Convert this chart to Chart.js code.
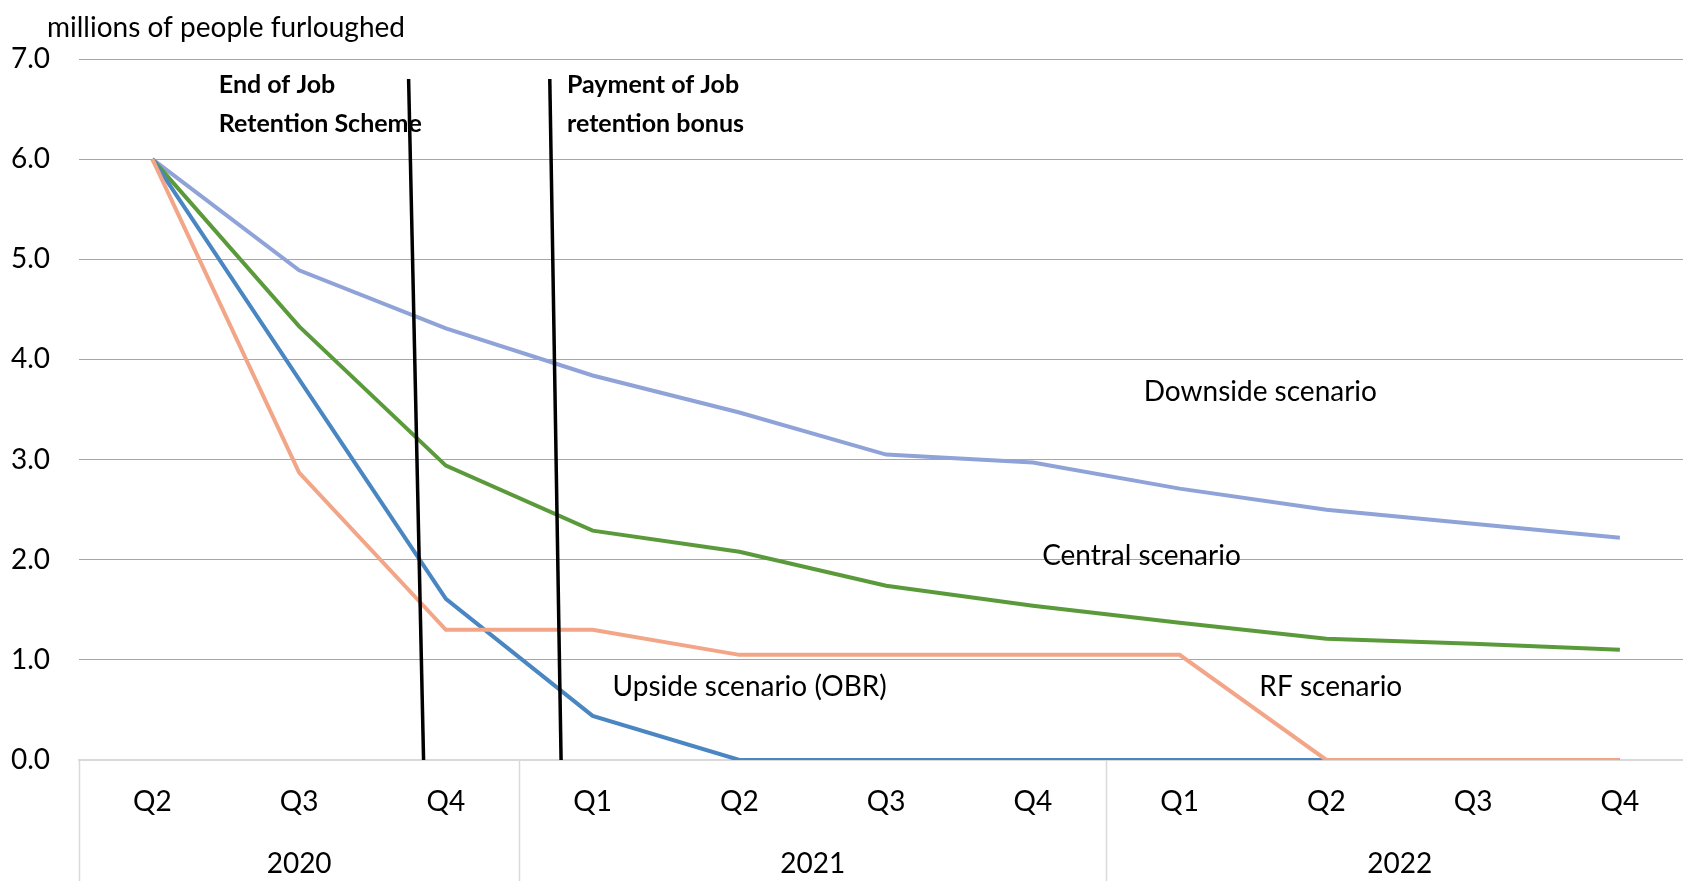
<!DOCTYPE html>
<html>
<head>
<meta charset="utf-8">
<script src="https://cdn.jsdelivr.net/npm/chart.js@4/dist/chart.umd.min.js"></script>
<style>
  html, body { margin: 0; padding: 0; background: #fff; overflow: hidden; }
  #wrap { width: 1683px; height: 881px; }
</style>
</head>
<body>
<div id="wrap"><canvas id="c" width="1683" height="881"></canvas></div>
<script>
// Quarters and the years they belong to
const quarterLabels = ['Q2', 'Q3', 'Q4', 'Q1', 'Q2', 'Q3', 'Q4', 'Q1', 'Q2', 'Q3', 'Q4'];
const yearLabels = ['2020', '2021', '2022'];
const yearFirstIndex = [0, 3, 7];
const yearLastIndex = [2, 6, 10];

// Millions of people furloughed, per scenario
const downside = [6.0, 4.89, 4.31, 3.84, 3.47, 3.05, 2.97, 2.71, 2.50, 2.36, 2.22];
const central  = [6.0, 4.33, 2.94, 2.29, 2.08, 1.74, 1.54, 1.37, 1.21, 1.16, 1.10];
const upside   = [6.0, 3.80, 1.61, 0.44, 0.0, 0.0, 0.0, 0.0, 0.0, 0.0, 0.0];
const rf       = [6.0, 2.87, 1.30, 1.30, 1.05, 1.05, 1.05, 1.05, 0.0, 0.0, 0.0];

// Policy event markers (quarter index, value)
const jrsEndMarker = [{ x: 1.746, y: 6.8 }, { x: 1.848, y: 0 }];
const bonusMarker  = [{ x: 2.708, y: 6.8 }, { x: 2.785, y: 0 }];

const yTicks = [0, 1, 2, 3, 4, 5, 6, 7];

const FONT = 'Lato, "Open Sans", sans-serif';

const toPoints = arr => arr.map((v, i) => ({ x: i, y: v }));

const decorations = {
  id: 'decorations',
  afterDraw(chart) {
    const { ctx, scales: { x, y }, chartArea } = chart;
    ctx.save();
    // Axis title
    ctx.fillStyle = '#000';
    ctx.font = '28px ' + FONT;
    ctx.textAlign = 'left';
    ctx.textBaseline = 'middle';
    ctx.fillText('millions of people furloughed', 47, 28);

    // Year group separators below the axis
    ctx.strokeStyle = '#D9D9D9';
    ctx.lineWidth = 1.5;
    const seps = [-0.5, 2.5, 6.5];
    seps.forEach(s => {
      const px = Math.round(x.getPixelForValue(s)) + 0.5;
      ctx.beginPath();
      ctx.moveTo(px, chartArea.bottom);
      ctx.lineTo(px, chart.height);
      ctx.stroke();
    });

    // Year labels
    ctx.fillStyle = '#000';
    ctx.font = '28px ' + FONT;
    ctx.textAlign = 'center';
    ctx.textBaseline = 'middle';
    yearLabels.forEach((label, i) => {
      const cx = x.getPixelForValue((yearFirstIndex[i] + yearLastIndex[i]) / 2);
      ctx.fillText(label, cx, 864);
    });

    // Scenario labels
    const scen = [
      ['Downside scenario', 7.55, 3.68],
      ['Central scenario', 6.74, 2.04],
      ['Upside scenario (OBR)', 4.07, 0.73],
      ['RF scenario', 8.03, 0.73]
    ];
    scen.forEach(([t, xi, yv]) => {
      ctx.fillText(t, x.getPixelForValue(xi), y.getPixelForValue(yv));
    });

    // Event notes
    ctx.font = 'bold 25px ' + FONT;
    ctx.textAlign = 'left';
    const notes = [
      ['End of Job', 0.453, 6.74],
      ['Retention Scheme', 0.453, 6.355],
      ['Payment of Job', 2.825, 6.74],
      ['retention bonus', 2.825, 6.355]
    ];
    notes.forEach(([t, xi, yv]) => {
      ctx.fillText(t, x.getPixelForValue(xi), y.getPixelForValue(yv));
    });
    ctx.restore();
  }
};

new Chart(document.getElementById('c'), {
  type: 'line',
  data: {
    datasets: [
      { label: 'End of JRS', data: jrsEndMarker, borderColor: '#000', borderWidth: 3.5, pointRadius: 0, tension: 0 },
      { label: 'Retention bonus', data: bonusMarker, borderColor: '#000', borderWidth: 3.5, pointRadius: 0, tension: 0 },
      { label: 'RF scenario', data: toPoints(rf), borderColor: '#F2A687', borderWidth: 4, pointRadius: 0, tension: 0 },
      { label: 'Upside scenario (OBR)', data: toPoints(upside), borderColor: '#4A86C1', borderWidth: 4, pointRadius: 0, tension: 0 },
      { label: 'Central scenario', data: toPoints(central), borderColor: '#5B9A3B', borderWidth: 4, pointRadius: 0, tension: 0 },
      { label: 'Downside scenario', data: toPoints(downside), borderColor: '#8FA3D8', borderWidth: 4, pointRadius: 0, tension: 0 }
    ]
  },
  options: {
    responsive: false,
    animation: false,
    events: [],
    layout: { padding: { top: 59, right: 0, bottom: 0, left: 0 } },
    plugins: { legend: { display: false }, tooltip: { enabled: false }, title: { display: false } },
    scales: {
      x: {
        type: 'linear',
        min: -0.5,
        max: 10.43,
        afterBuildTicks: s => { s.ticks = quarterLabels.map((_, i) => ({ value: i })); },
        afterFit: s => { s.height = 121; },
        grid: { display: false, drawTicks: false },
        border: { display: true, color: '#D9D9D9', width: 2 },
        ticks: {
          autoSkip: false,
          maxRotation: 0,
          padding: 25,
          color: '#000',
          font: { family: FONT, size: 28 },
          callback: v => quarterLabels[v] ?? ''
        }
      },
      y: {
        min: 0,
        max: 7,
        afterBuildTicks: s => { s.ticks = yTicks.map(v => ({ value: v })); },
        afterFit: s => { s.width = 79; },
        grid: {
          drawTicks: false,
          color: c => (c.tick && c.tick.value === 0) ? '#D9D9D9' : '#A6A6A6',
          lineWidth: c => (c.tick && c.tick.value === 0) ? 2 : 1
        },
        border: { display: false },
        ticks: {
          padding: 29,
          color: '#000',
          font: { family: FONT, size: 28 },
          callback: v => Number(v).toFixed(1)
        }
      }
    }
  },
  plugins: [decorations]
});
</script>
</body>
</html>
